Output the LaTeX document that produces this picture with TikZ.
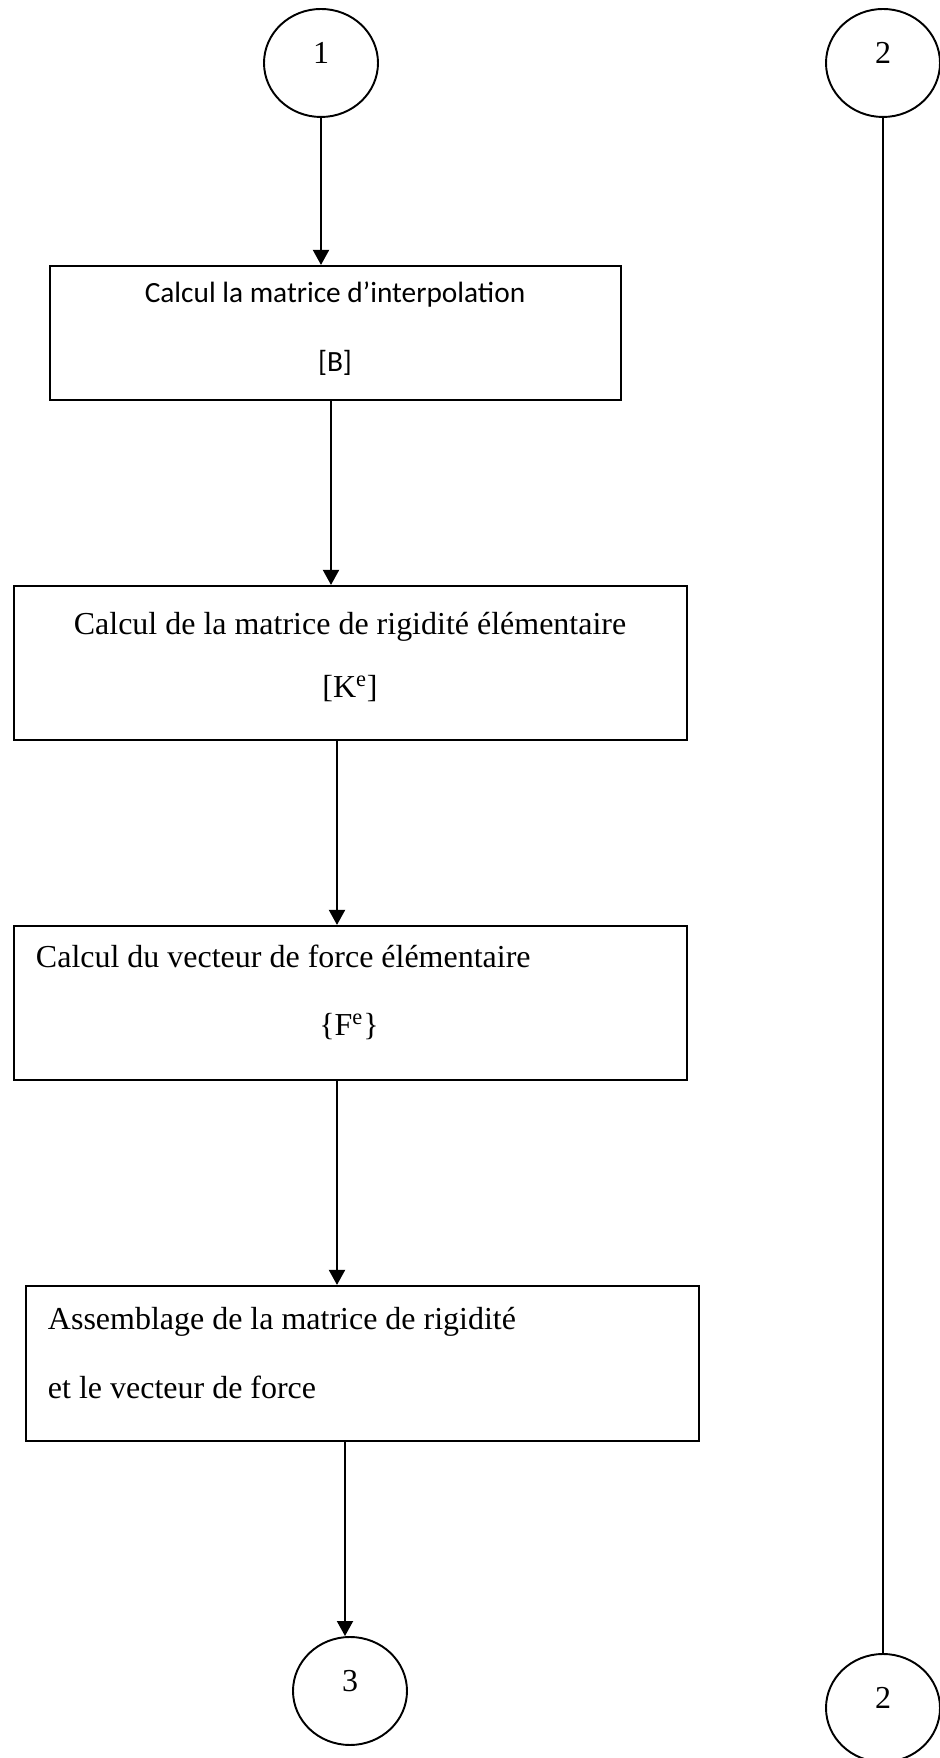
\documentclass[tikz,border=0pt]{standalone}
\usepackage{fontspec}
\setmainfont{Liberation Serif}
\newfontfamily\calibri{Carlito}
\usetikzlibrary{arrows.meta,shapes.geometric}

\begin{document}
\begin{tikzpicture}[>={Triangle[length=3mm, width=3.2mm]}, line width=1.1pt,
  bloc/.style={draw, rectangle, inner sep=0pt, line width=1.2pt},
  renvoi/.style={draw, ellipse, minimum width=2.28cm, minimum height=2.16cm, inner sep=0pt,
    font=\fontsize{18.2}{22}\selectfont},
  txt/.style={inner sep=0pt, anchor=base, font=\fontsize{18.2}{22}\selectfont},
  calib/.style={txt, font=\calibri\fontsize{16.7}{20}\selectfont}]
  \useasboundingbox (0,0) rectangle (18.78,35.16);
  % renvois
  \node[renvoi] (c1) at (6.42,33.90) {\raisebox{4mm}{1}};
  \node[renvoi] (c2a) at (17.66,33.90) {\raisebox{4mm}{2}};
  \node[renvoi] (c3) at (7.00,1.34) {\raisebox{4mm}{3}};
  \node[renvoi] (c2b) at (17.66,1.00) {\raisebox{4mm}{2}};
  % bloc 1
  \node[bloc, minimum width=11.42cm, minimum height=2.68cm] (b1) at (6.71,28.50) {};
  \node[calib] (t1a) at (6.70,29.10) {Calcul la matrice d’interpolation};
  \node[calib] (t1b) at (6.70,27.72) {[B]};
  % bloc 2
  \node[bloc, minimum width=13.46cm, minimum height=3.08cm] (b2) at (7.01,21.90) {};
  \node[txt] (t2a) at (7.00,22.46) {Calcul de la matrice de rigidité élémentaire};
  \node[txt] (t2b) at (7.00,21.20) {[K\textsuperscript{e}]};
  % bloc 3
  \node[bloc, minimum width=13.46cm, minimum height=3.08cm] (b3) at (7.01,15.10) {};
  \node[txt, anchor=base west] (t3a) at (0.70,15.81) {Calcul du vecteur de force élémentaire};
  \node[txt] (t3b) at (6.98,14.44) {\{F\textsuperscript{e}\}};
  % bloc 4
  \node[bloc, minimum width=13.46cm, minimum height=3.10cm] (b4) at (7.25,7.89) {};
  \node[txt, anchor=base west] (t4a) at (0.94,8.56) {Assemblage de la matrice de rigidité};
  \node[txt, anchor=base west] (t4b) at (0.94,7.18) {et le vecteur de force};
  % liaisons
  \draw[->] (c1.south) -- (c1.south |- b1.north);
  \draw[->] ([xshift=-0.09cm]b1.south) -- ([xshift=-0.09cm]b1.south |- b2.north);
  \draw[->] ([xshift=-0.27cm]b2.south) -- ([xshift=-0.27cm]b2.south |- b3.north);
  \draw[->] ([xshift=-0.27cm]b3.south) -- ([xshift=-0.51cm]b4.north);
  \draw[->] ([xshift=-0.1cm]c3.north |- b4.south) -- ([xshift=-0.1cm]c3.north);
  \draw (c2a) -- (c2b);
\end{tikzpicture}
\end{document}
